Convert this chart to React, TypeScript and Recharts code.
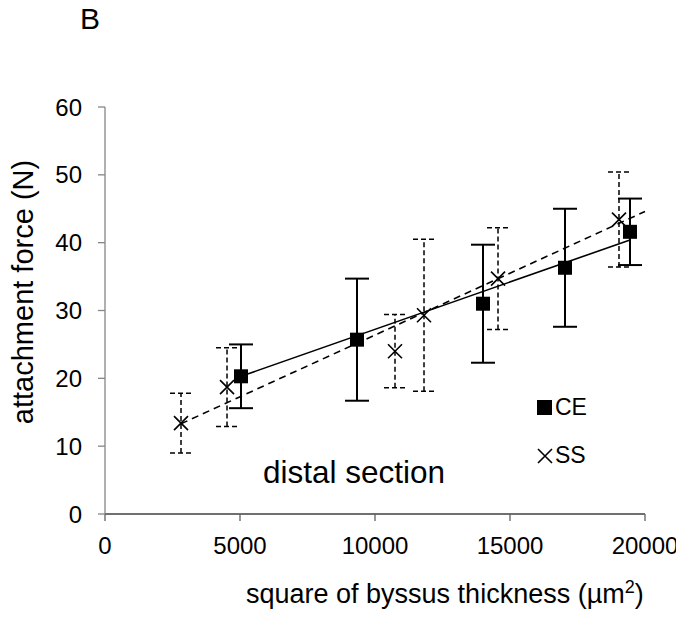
import React from 'react';
import {ComposedChart, Scatter, ErrorBar, XAxis, YAxis, ReferenceLine, Customized} from 'recharts';

// CE (square markers, solid)
const ceX = [5037, 9333, 14000, 17037, 19444];
const ceY = [20.3, 25.7, 31.0, 36.3, 41.6];
const ceErr = [4.7, 9.0, 8.7, 8.7, 4.9];

// SS (cross markers, dashed)
const ssX = [2815, 4519, 10741, 11815, 14556, 19037];
const ssY = [13.4, 18.7, 24.0, 29.3, 34.7, 43.4];
const ssErr = [4.4, 5.8, 5.4, 11.2, 7.5, 7.0];

// linear trend lines, end points
const ceTrend = [{x: 5037, y: 20.3}, {x: 19444, y: 40.4}];
const ssTrend = [{x: 2815, y: 13.3}, {x: 20000, y: 44.6}];

const xTicks = [0, 5000, 10000, 15000, 20000];
const yTicks = [0, 10, 20, 30, 40, 50, 60];

const ceData = ceX.map((x, i) => ({x, y: ceY[i], err: ceErr[i]}));
const ssData = ssX.map((x, i) => ({x, y: ssY[i], err: ssErr[i]}));

const FONT = '"Liberation Sans", Arial, sans-serif';

const Square = (props: any) => {
    const {cx, cy} = props;
    return <rect x={cx - 7} y={cy - 7} width={14} height={14} fill="#000"/>;
};

const Cross = (props: any) => {
    const {cx, cy} = props;
    const s = 7;
    return (
        <path d={`M${cx - s},${cy - s}L${cx + s},${cy + s}M${cx - s},${cy + s}L${cx + s},${cy - s}`}
              stroke="#000" strokeWidth={1.6} fill="none"/>
    );
};

const Texts = () => (
    <g fontFamily={FONT} fill="#000">
        <text x={80} y={29} fontSize={30}>B</text>
        <text x={263} y={483} fontSize={31.5}>distal section</text>
        <text x={246} y={603} fontSize={27}>
            square of byssus thickness (µm<tspan fontSize={18} dy={-10}>2</tspan><tspan dy={10}>)</tspan>
        </text>
        <text x={33} y={292} fontSize={29} textAnchor="middle" transform="rotate(-90 33 292)">attachment force (N)</text>
        <rect x={537} y={400} width={15} height={15} fill="#000"/>
        <text x={555} y={415} fontSize={23}>CE</text>
        <path d="M538,449L552,463M538,463L552,449" stroke="#000" strokeWidth={1.6}/>
        <text x={555} y={463} fontSize={23}>SS</text>
    </g>
);

export default function App() {
    return (
        <div style={{margin: -8, width: 684, height: 618}}>
            <ComposedChart width={684} height={618} margin={{top: 107, right: 39, bottom: 74, left: 0}}>
                <XAxis type="number" dataKey="x" domain={[0, 20000]} ticks={xTicks} height={30}
                       tickSize={7} tickMargin={16} axisLine={{stroke: '#404040', strokeWidth: 1.3}}
                       tickLine={{stroke: '#606060', strokeWidth: 1.3}}
                       tick={{fontSize: 24, fill: '#000', fontFamily: FONT}}/>
                <YAxis type="number" dataKey="y" domain={[0, 60]} ticks={yTicks} width={105}
                       tickSize={7} tickMargin={16} axisLine={{stroke: '#868686', strokeWidth: 1.3}}
                       tickLine={{stroke: '#868686', strokeWidth: 1.3}}
                       tick={{fontSize: 24, fill: '#000', fontFamily: FONT}}/>
                <ReferenceLine segment={ssTrend} stroke="#000" strokeWidth={1.6} strokeDasharray="7 5" ifOverflow="visible"/>
                <ReferenceLine segment={ceTrend} stroke="#000" strokeWidth={1.6} ifOverflow="visible"/>
                <Scatter name="SS" data={ssData} dataKey="y" shape={Cross} isAnimationActive={false}>
                    <ErrorBar dataKey="err" direction="y" width={11} stroke="#000" strokeWidth={1.5}
                              strokeDasharray="5 3"/>
                </Scatter>
                <Scatter name="CE" data={ceData} dataKey="y" shape={Square} isAnimationActive={false}>
                    <ErrorBar dataKey="err" direction="y" width={12} stroke="#000" strokeWidth={2}/>
                </Scatter>
                <Customized component={Texts}/>
            </ComposedChart>
        </div>
    );
}
